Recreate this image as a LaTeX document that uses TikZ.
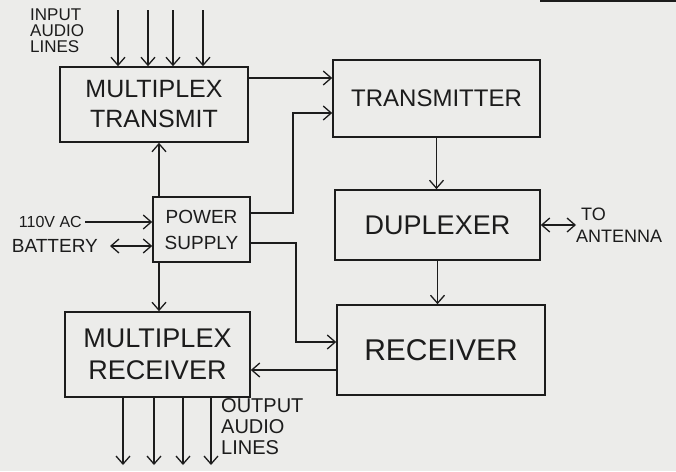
\documentclass[tikz,border=0pt]{standalone}
\usepackage{fontspec}
\setmainfont{Liberation Sans}
\usetikzlibrary{arrows.meta}
\definecolor{paper}{RGB}{236,236,234}
\definecolor{ink}{RGB}{28,28,28}

\tikzset{blk/.style={draw=ink,line width=1.6pt,minimum width=#1,inner sep=2pt,align=center,text=ink},
         arr/.style={draw=ink,line width=1.3pt,-{Straight Barb[length=8pt,width=14pt]}},
         arrb/.style={draw=ink,line width=1.3pt,{Straight Barb[length=8pt,width=14pt]}-{Straight Barb[length=8pt,width=14pt]}},
         lab/.style={text=ink,inner sep=0pt,align=left}}

\begin{document}
\begin{tikzpicture}[x=1pt,y=-1pt]
    \fill[paper] (0,0) rectangle (676,471);
    \useasboundingbox (0,0) rectangle (676,471);
    % blocks
    \node[blk=188pt,minimum height=75pt,font={\fontsize{25}{30}\selectfont}] (mt) at (154,104.5) {MULTIPLEX\\TRANSMIT};
    \node[blk=207pt,minimum height=77pt,font={\fontsize{24}{28}\selectfont}] (tx) at (436.5,98.5) {TRANSMITTER};
    \node[blk=97pt,minimum height=65pt,font={\fontsize{19}{26}\selectfont}] (ps) at (201.5,229.5) {POWER\\SUPPLY};
    \node[blk=205pt,minimum height=70pt,font={\fontsize{27}{30}\selectfont}] (dup) at (437.5,225) {DUPLEXER};
    \node[blk=208pt,minimum height=90pt,font={\fontsize{30}{32}\selectfont}] (rx) at (441,350) {RECEIVER};
    \node[blk=185pt,minimum height=85pt,font={\fontsize{27}{32}\selectfont}] (mr) at (157.5,354.5) {MULTIPLEX\\RECEIVER};
    % labels
    \node[lab,anchor=north west,font={\fontsize{17}{16}\selectfont}] (inlab) at (30,9) {INPUT\\AUDIO\\LINES};
    \node[lab,anchor=north west,font={\fontsize{20}{21}\selectfont}] (outlab) at (221,398) {OUTPUT\\AUDIO\\LINES};
    \node[lab,anchor=east,font={\fontsize{16}{18}\selectfont}] (aclab) at (82,222) {110V AC};
    \node[lab,anchor=east,font={\fontsize{19}{20}\selectfont}] (batlab) at (98,246) {BATTERY};
    \node[lab,anchor=west,font={\fontsize{18}{22}\selectfont}] (antlab) at (576,225) {\ TO\\ANTENNA};
    % helper points
    \coordinate (k1) at (293,113);
    \coordinate (k2) at (296,342);
    \coordinate (k3) at (300,370);
    \coordinate (k4) at (159,170);
    \coordinate (k5) at (300,78);
    % audio lines
    \foreach \x/\i in {118/1,148/2,173/3,203/4}
      {\coordinate (in\i) at (\x,10); \draw[arr] (in\i) -- (in\i |- mt.north);}
    \foreach \x/\i in {123/1,154/2,183/3,211/4}
      {\coordinate (out\i) at (\x,465); \draw[arr] (out\i |- mr.south) -- (out\i);}
    % signal paths
    \draw[arr] (k5 -| mt.east) -- (k5 -| tx.west);
    \draw[arr] ([yshift=16.5pt]ps.east) -| (k1) -- (k1 -| tx.west);
    \draw[arr] ([yshift=-13.5pt]ps.east) -| (k2) -- (k2 -| rx.west);
    \draw[arr] (k3 -| rx.west) -- (k3 -| mr.east);
    \draw[arr] (ps.north -| k4) -- (mt.south -| k4);
    \draw[arr] (ps.south -| k4) -- (mr.north -| k4);
    \draw[arr] (tx.south) -- (tx.south |- dup.north);
    \draw[arr] (dup.south) -- (dup.south |- rx.north);
    \draw[arrb] (dup.east) -- (dup.east -| antlab.west);
    % power inputs
    \draw[arr] ([xshift=3pt]aclab.east) -- (aclab.east -| ps.west);
    \draw[arrb] ([xshift=12pt]batlab.east) -- (batlab.east -| ps.west);
    % title rule (cut off)
    \draw[ink,line width=2.5pt] (540,0.5) -- (676,0.5);
\end{tikzpicture}
\end{document}
